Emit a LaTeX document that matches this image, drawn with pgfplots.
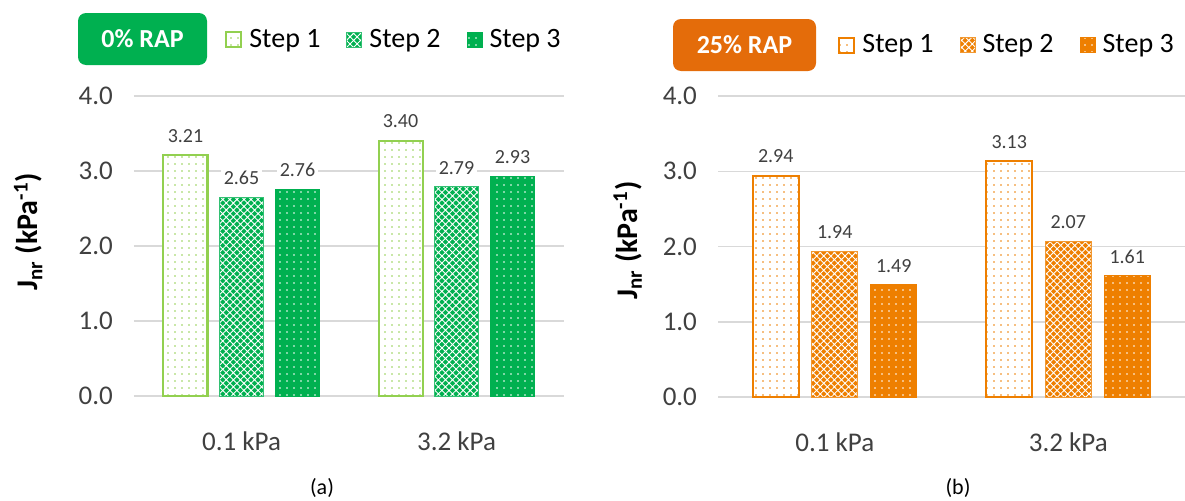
\documentclass[border=0pt]{standalone}
\usepackage{fontspec}
\setmainfont{Carlito}
\usepackage{pgfplots}
\pgfplotsset{compat=1.18}
\usetikzlibrary{patterns.meta}
\definecolor{lgreen}{HTML}{92D050}
\definecolor{dgreen}{HTML}{00B050}
\definecolor{orng}{HTML}{EE7F00}
\definecolor{badgeorng}{HTML}{E46C0A}
\definecolor{txt}{HTML}{404040}
\definecolor{grd}{HTML}{D9D9D9}
\pgfplotsset{jnr/.style={
  scale only axis, ymin=0, ymax=4, ytick={0,1,2,3,4},
  xmin=-0.5, xmax=1.5, xtick={0,1}, xticklabels={0.1 kPa,3.2 kPa},
  axis line style={draw=none}, tick style={draw=none},
  ymajorgrids, grid style={grd, line width=0.75pt},
  /pgf/number format/assume math mode=true,
  yticklabel={\pgfmathprintnumber[fixed,fixed zerofill,precision=1]{\tick}},
  ticklabel style={font=\fontsize{13.5}{15}\selectfont, text=txt},
  yticklabel style={xshift=-7pt},
  xticklabel style={yshift=-10pt},
  nodes near coords={\pgfmathprintnumber[fixed,fixed zerofill,precision=2]{\pgfplotspointmeta}},
  every node near coord/.append style={font=\fontsize{10}{12}\selectfont, text=txt, fill=white, inner sep=1.5pt, yshift=4.5pt},
  legend columns=3,
  legend style={draw=none, fill=none, font=\fontsize{14}{16}\selectfont, anchor=west, inner sep=0pt,
    nodes={inner sep=2pt}},
  clip=false,
  ylabel={J\textsubscript{nr} (kPa\textsuperscript{-1})},
  ylabel style={anchor=center, font=\bfseries\fontsize{15}{18}\selectfont, text=black},
}}
\begin{document}
\begin{tikzpicture}
\path[use as bounding box] (0,0) rectangle (592.5pt,250pt);
% left panel
\begin{axis}[jnr, at={(67pt,52pt)}, anchor=south west, width=215pt, height=150pt,
  ybar=6pt, bar width=22pt,
  legend image code/.code={\draw[#1, /pgf/bar shift=0pt] (0pt,-3.75pt) rectangle (7.5pt,3.75pt);},
  ylabel style={at={(axis description cs:-0.246,0.547)}},
  legend style={at={(axis description cs:0.2116,1.187)},
    /tikz/every even column/.append style={column sep=9.5pt},
    nodes={inner xsep=3.5pt}}]
\addplot[draw=lgreen, line width=1pt, fill=white, postaction={pattern={Dots[distance=3.5pt,radius=0.45pt]}, pattern color=lgreen}] coordinates {(0,3.21) (1,3.40)};
\addplot[draw=dgreen!80!white, line width=0.5pt, fill=dgreen, postaction={pattern={Hatch[angle=45,distance=2.5pt,line width=0.45pt]}, pattern color=white}] coordinates {(0,2.65) (1,2.79)};
\addplot[draw=dgreen, line width=0.5pt, fill=dgreen, postaction={pattern={Dots[distance=3.5pt,radius=0.45pt]}, pattern color=white}] coordinates {(0,2.76) (1,2.93)};
\legend{Step 1, Step 2, Step 3}
\end{axis}
% right panel
\begin{axis}[jnr, at={(359pt,51.5pt)}, anchor=south west, width=233.5pt, height=150.5pt,
  ybar=6.5pt, bar width=23pt,
  legend image code/.code={\draw[#1, /pgf/bar shift=0pt] (0pt,-3.75pt) rectangle (7.5pt,3.75pt);},
  ylabel style={at={(axis description cs:-0.193,0.52)}},
  legend style={at={(axis description cs:0.257,1.169)},
    /tikz/every even column/.append style={column sep=9.5pt},
    nodes={inner xsep=3.5pt}}]
\addplot[draw=orng, line width=1pt, fill=white, postaction={pattern={Dots[distance=3.5pt,radius=0.45pt]}, pattern color=orng}] coordinates {(0,2.94) (1,3.13)};
\addplot[draw=orng!80!white, line width=0.5pt, fill=orng, postaction={pattern={Hatch[angle=45,distance=2.5pt,line width=0.45pt]}, pattern color=white}] coordinates {(0,1.94) (1,2.07)};
\addplot[draw=orng, line width=0.5pt, fill=orng, postaction={pattern={Dots[distance=3.5pt,radius=0.45pt]}, pattern color=white}] coordinates {(0,1.49) (1,1.61)};
\legend{Step 1, Step 2, Step 3}
\end{axis}
\node[fill=dgreen, rounded corners=4pt, minimum width=64.5pt, minimum height=26pt, text=white, font=\bfseries\fontsize{13}{15}\selectfont] at (71.25pt,230.5pt) {0\% RAP};
\node[fill=badgeorng, rounded corners=4pt, minimum width=71.5pt, minimum height=26pt, text=white, font=\bfseries\fontsize{13}{15}\selectfont] at (372.25pt,227.5pt) {25\% RAP};
\node[font=\fontsize{11}{13}\selectfont, text=black] at (161pt,6pt) {(a)};
\node[font=\fontsize{11}{13}\selectfont, text=black] at (479pt,6pt) {(b)};
\end{tikzpicture}
\end{document}
